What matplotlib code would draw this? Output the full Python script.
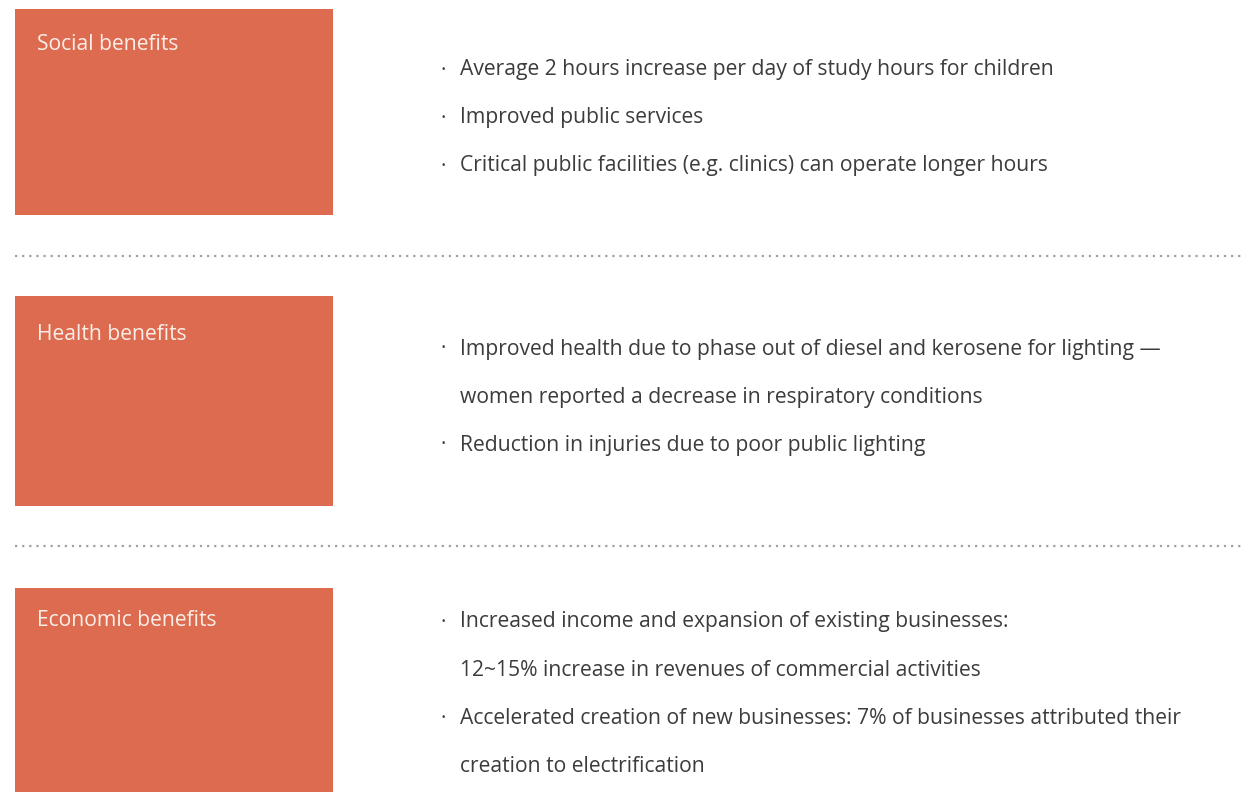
import matplotlib
matplotlib.use("Agg")
import matplotlib.pyplot as plt
from matplotlib.patches import Rectangle

''' Content
'''
section_titles = ["Social benefits", "Health benefits", "Economic benefits"]

social_lines = [
    ("\u00b7", "Average 2 hours increase per day of study hours for children"),
    ("\u00b7", "Improved public services"),
    ("\u00b7", "Critical public facilities (e.g. clinics) can operate longer hours"),
]
health_lines = [
    ("\u00b7", "Improved health due to phase out of diesel and kerosene for lighting \u2014"),
    ("", "women reported a decrease in respiratory conditions"),
    ("\u00b7", "Reduction in injuries due to poor public lighting"),
]
economic_lines = [
    ("\u00b7", "Increased income and expansion of existing businesses:"),
    ("", "12~15% increase in revenues of commercial activities"),
    ("\u00b7", "Accelerated creation of new businesses: 7% of businesses attributed their"),
    ("", "creation to electrification"),
]
section_lines = [social_lines, health_lines, economic_lines]

''' Layout (pixels)
'''
W, H = 1245, 792
box_color = "#dd6b4f"
text_color = "#3c3c3c"
box_tops = [9, 296, 588]
box_heights = [206, 210, 220]
first_line_y = [70, 349, 622]
title_offset = [36, 39, 33]
line_step = 48
divider_y = [256, 546]

plt.rcParams['font.family'] = ['Open Sans', 'DejaVu Sans']

fig = plt.figure(figsize=(W / 100, H / 100), dpi=100)
ax = fig.add_axes([0, 0, 1, 1])
ax.set_xlim(0, W)
ax.set_ylim(H, 0)
ax.axis("off")

for i, title in enumerate(section_titles):
    ax.add_patch(Rectangle((15, box_tops[i]), 318, box_heights[i],
                           facecolor=box_color, edgecolor="none"))
    ax.text(37, box_tops[i] + title_offset[i], title, color="#fbeee8",
            fontsize=15.2, va="center", ha="left")
    for j, (bullet, line) in enumerate(section_lines[i]):
        y = first_line_y[i] + j * line_step
        if bullet:
            ax.text(441, y, bullet, color=text_color, fontsize=15,
                    va="center", ha="left")
        ax.text(460, y, line, color=text_color, fontsize=15.2,
                va="center", ha="left")

for y in divider_y:
    ax.plot([15, W], [y, y], color="#a0a0a0", lw=1.6,
            linestyle=(0, (1, 2.2)), solid_capstyle="butt")

fig.savefig("out.png", dpi=100)
